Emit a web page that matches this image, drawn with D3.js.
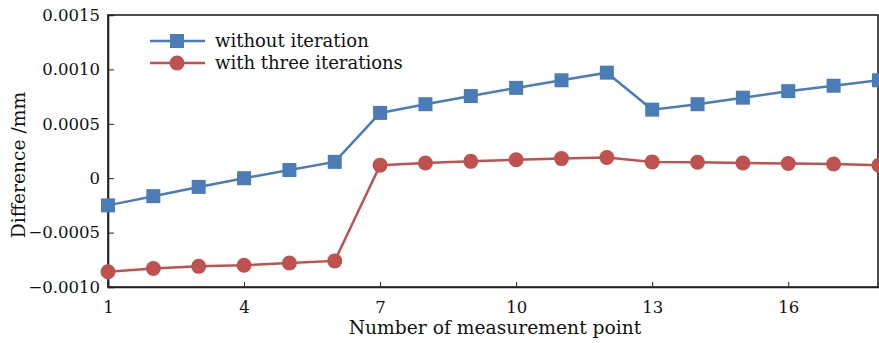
<!DOCTYPE html>
<html>
<head>
<meta charset="utf-8">
<script src="https://cdn.jsdelivr.net/npm/d3@7"></script>
<style>
  html, body { margin: 0; padding: 0; background: #fff; }
  svg { display: block; }
  text { font-family: "DejaVu Serif", "Liberation Serif", serif; fill: #111; }
</style>
</head>
<body>
<svg id="chart" width="879" height="343"></svg>
<script>
// Measurement points and the two difference series (mm)
const points = [1,2,3,4,5,6,7,8,9,10,11,12,13,14,15,16,17,18];
const withoutIteration = [-0.00025,-0.000165,-0.00008,0.0,0.000075,0.00015,0.0006,0.00068,0.000755,0.00083,0.0009,0.00097,0.00063,0.00068,0.00074,0.0008,0.00085,0.0009];
const threeIterations = [-0.00086,-0.00083,-0.00081,-0.0008,-0.00078,-0.00076,0.00012,0.00014,0.000155,0.00017,0.00018,0.00019,0.00015,0.000147,0.00014,0.000135,0.00013,0.00012];
const xTicks = [1,4,7,10,13,16];
const yTicks = [-0.0010,-0.0005,0,0.0005,0.0010,0.0015];
const seriesNames = ["without iteration","with three iterations"];

const svg = d3.select("#chart");
const plotLeft = 108, plotRight = 878, plotTop = 15, plotBottom = 287;

const x = d3.scaleLinear().domain([1,18]).range([plotLeft, plotLeft + 17*45.35]);
const y = d3.scaleLinear().domain([-0.0010,0.0015]).range([plotBottom, plotTop]);

const fmtY = v => v === 0 ? "0" : (v < 0 ? "\u2212" : "") + Math.abs(v).toFixed(4);

// frame
svg.append("rect").attr("x", plotLeft).attr("y", plotTop)
  .attr("width", plotRight - plotLeft).attr("height", plotBottom - plotTop)
  .attr("fill", "none").attr("stroke", "#222").attr("stroke-width", 1.6);

// axes with inward ticks
const xAxis = svg.append("g").attr("transform", `translate(0,${plotBottom})`)
  .call(d3.axisBottom(x).tickValues(xTicks).tickSize(-5).tickPadding(14).tickFormat(d3.format("d")));
const yAxis = svg.append("g").attr("transform", `translate(${plotLeft},0)`)
  .call(d3.axisLeft(y).tickValues(yTicks).tickSize(-6).tickPadding(8).tickFormat(fmtY));
[xAxis, yAxis].forEach(g => {
  g.select(".domain").attr("stroke", "#222").attr("stroke-width", 1.6);
  g.selectAll(".tick line").attr("stroke", "#222").attr("stroke-width", 1);
  g.selectAll(".tick text").attr("font-size", 16.5).attr("font-family", "DejaVu Serif, serif").attr("fill", "#111");
});
xAxis.selectAll(".tick text").attr("dy", "0.71em");

// axis titles
svg.append("text").attr("x", 495).attr("y", 334).attr("text-anchor", "middle")
  .attr("font-size", 18.7).text("Number of measurement point");
svg.append("text").attr("transform", "translate(25,165) rotate(-90)")
  .attr("text-anchor", "middle").attr("font-size", 18.7).text("Difference /mm");

const blue = "#4a7cb8", red = "#bf5150";
const line = d3.line().x((d,i) => x(points[i])).y(d => y(d));

const plot = svg.append("g");
plot.append("path").datum(withoutIteration).attr("d", line)
  .attr("fill", "none").attr("stroke", blue).attr("stroke-width", 2.5);
plot.append("path").datum(threeIterations).attr("d", line)
  .attr("fill", "none").attr("stroke", red).attr("stroke-width", 2.5);

const sq = 14;
plot.selectAll(".sq").data(withoutIteration).join("rect")
  .attr("x", (d,i) => x(points[i]) - sq/2).attr("y", d => y(d) - sq/2)
  .attr("width", sq).attr("height", sq).attr("fill", blue);
plot.selectAll(".ci").data(threeIterations).join("circle")
  .attr("cx", (d,i) => x(points[i])).attr("cy", d => y(d)).attr("r", 7.5).attr("fill", red);

// legend
const lg = svg.append("g");
const rows = [{name: seriesNames[0], color: blue, shape: "square", y: 41},
              {name: seriesNames[1], color: red, shape: "circle", y: 63}];
rows.forEach(r => {
  lg.append("line").attr("x1", 150).attr("x2", 205).attr("y1", r.y).attr("y2", r.y)
    .attr("stroke", r.color).attr("stroke-width", 2.5);
  if (r.shape === "square") {
    lg.append("rect").attr("x", 177 - sq/2).attr("y", r.y - sq/2).attr("width", sq).attr("height", sq).attr("fill", r.color);
  } else {
    lg.append("circle").attr("cx", 177).attr("cy", r.y).attr("r", 7.5).attr("fill", r.color);
  }
  lg.append("text").attr("x", 215).attr("y", r.y + 6).attr("font-size", 18).text(r.name);
});
</script>
</body>
</html>
